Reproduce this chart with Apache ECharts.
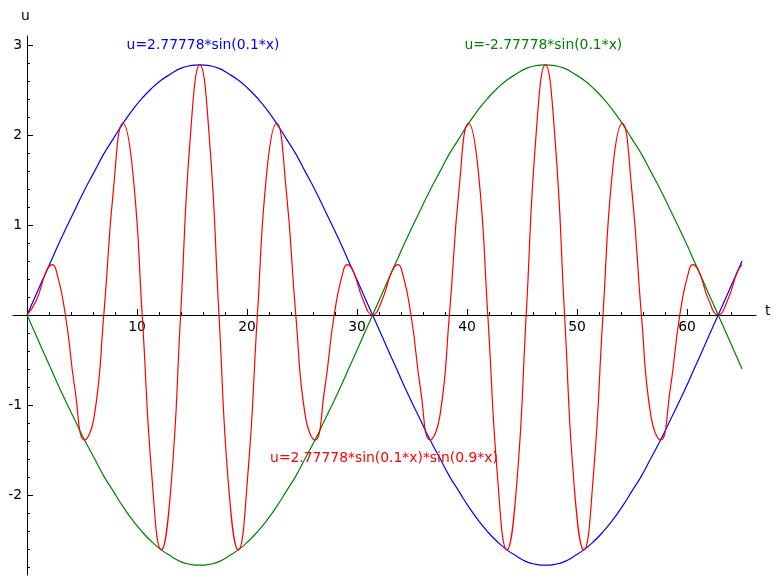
<!DOCTYPE html>
<html>
<head>
<meta charset="utf-8">
<script src="https://cdn.jsdelivr.net/npm/echarts@6/dist/echarts.min.js"></script>
<style>
html,body{margin:0;padding:0;background:#fff;}
#c{width:781px;height:585px;}
</style>
</head>
<body>
<div id="c"></div>
<script>
// sample positions along t
var ts = [0,0.873,1.745,2.3,2.618,3.491,4.363,5.236,6.109,6.981,7.854,8.727,9.599,10.472,11.345,12.217,13.09,13.963,14.835,15.708,16.581,17.453,18.326,19.199,20.071,20.944,21.817,22.689,23.562,24.435,25.307,26.18,27.053,27.925,28.798,29.116,29.671,30.543,31.416,32.289,33.161,33.716,34.034,34.907,35.779,36.652,37.525,38.397,39.27,40.143,41.015,41.888,42.761,43.633,44.506,45.379,46.251,47.124,47.997,48.869,49.742,50.615,51.487,52.36,53.233,54.105,54.978,55.851,56.723,57.596,58.469,59.341,60.214,60.532,61.087,61.959,62.832,63.705,64.577,65];
// u = 2.77778*sin(0.1*x)
var uBlue = [0,0.24,0.48,0.63,0.72,0.95,1.17,1.39,1.59,1.79,1.96,2.13,2.28,2.41,2.52,2.61,2.68,2.74,2.77,2.78,2.77,2.74,2.68,2.61,2.52,2.41,2.28,2.13,1.96,1.79,1.59,1.39,1.17,0.95,0.72,0.63,0.48,0.24,0,
-0.24,-0.48,-0.63,-0.72,-0.95,-1.17,-1.39,-1.59,-1.79,-1.96,-2.13,-2.28,-2.41,-2.52,-2.61,-2.68,-2.74,-2.77,-2.78,-2.77,-2.74,-2.68,-2.61,-2.52,-2.41,-2.28,-2.13,-1.96,-1.79,-1.59,-1.39,-1.17,-0.95,-0.72,-0.63,-0.48,-0.24,0,
0.24,0.48,0.60];
// u = -2.77778*sin(0.1*x)
var uGreen = [0,-0.24,-0.48,-0.63,-0.72,-0.95,-1.17,-1.39,-1.59,-1.79,-1.96,-2.13,-2.28,-2.41,-2.52,-2.61,-2.68,-2.74,-2.77,-2.78,-2.77,-2.74,-2.68,-2.61,-2.52,-2.41,-2.28,-2.13,-1.96,-1.79,-1.59,-1.39,-1.17,-0.95,-0.72,-0.63,-0.48,-0.24,0,
0.24,0.48,0.63,0.72,0.95,1.17,1.39,1.59,1.79,1.96,2.13,2.28,2.41,2.52,2.61,2.68,2.74,2.77,2.78,2.77,2.74,2.68,2.61,2.52,2.41,2.28,2.13,1.96,1.79,1.59,1.39,1.17,0.95,0.72,0.63,0.48,0.24,0,
-0.24,-0.48,-0.60];
// u = 2.77778*sin(0.1*x)*sin(0.9*x)
var uRed = [0,0.17,0.48,0.56,0.51,0,-0.83,-1.39,-1.13,0,1.39,2.13,1.61,0,-1.78,-2.61,-1.90,0,1.96,2.78,1.96,0,-1.90,-2.61,-1.78,0,1.61,2.13,1.39,0,-1.13,-1.39,-0.83,0,0.51,0.56,0.48,0.17,0,
0.17,0.48,0.56,0.51,0,-0.83,-1.39,-1.13,0,1.39,2.13,1.61,0,-1.78,-2.61,-1.90,0,1.96,2.78,1.96,0,-1.90,-2.61,-1.78,0,1.61,2.13,1.39,0,-1.13,-1.39,-0.83,0,0.51,0.56,0.48,0.17,0,
0.17,0.48,0.56];
var seriesNames = ['u=2.77778*sin(0.1*x)','u=-2.77778*sin(0.1*x)','u=2.77778*sin(0.1*x)*sin(0.9*x)'];
var labelAt = [[16,3.0],[46.94,3.0],[32.45,-1.59]];
var xTicksMajor = [0,60,10];
var xTicksMinor = [0,64,2];
var yTicksMajor = [-2,3,1];
var yTicksMinor = [-2.8,3.0,0.2];

var FONT = 'DejaVu Sans';
var XMIN = -14/11, XMAX = 66.27, YMIN = -2.889, YMAX = 3.1;
function pairs(ys){ return ts.map(function(t,i){ return [t, ys[i]]; }); }
function hiddenX(gi){ return {type:'value', gridIndex:gi, min:XMIN, max:XMAX, show:false}; }
function hiddenY(gi){ return {type:'value', gridIndex:gi, min:YMIN, max:YMAX, show:false}; }
var black = {color:'#000', width:1};
var noLine = {show:false, onZero:false};

var chart = echarts.init(document.getElementById('c'), null, {renderer:'canvas'});
var colors = ['#0000ff','#008000','#ff0000'];
var all = [uBlue, uGreen, uRed];
var series = all.map(function(ys, i){
  return {
    type:'line', xAxisIndex:0, yAxisIndex:0, data:pairs(ys), smooth:0.5,
    showSymbol:false, symbol:'none', animation:false,
    lineStyle:{color:colors[i], width:1.2}, z: 3 + (i===2?1:0),
    markPoint:{
      symbol:'circle', symbolSize:0, animation:false,
      data:[{coord:labelAt[i], value:seriesNames[i]}],
      label:{show:true, position:'inside', formatter:seriesNames[i], color:colors[i], fontFamily:FONT, fontSize:13.9}
    }
  };
});

chart.setOption({
  animation:false,
  backgroundColor:'#fff',
  grid:[
    {left:13, right:25, top:36, bottom:10},
    {left:27, right:50, top:36, bottom:270},
    {left:27, right:94, top:36, bottom:270},
    {left:27, right:25, top:45, bottom:18},
    {left:27, right:25, top:45, bottom:90}
  ],
  xAxis:[
    {type:'value', gridIndex:0, min:XMIN, max:XMAX, name:'t', nameLocation:'end', nameGap:9,
     nameTextStyle:{fontFamily:FONT, fontSize:13.9, color:'#000', verticalAlign:'bottom', lineHeight:8},
     axisLine:{onZero:true, lineStyle:black}, axisTick:{show:false}, axisLabel:{show:false}, splitLine:{show:false}},
    {type:'value', gridIndex:1, position:'bottom', min:xTicksMinor[0], max:xTicksMinor[1], interval:xTicksMinor[2],
     axisLine:noLine, axisTick:{show:true, inside:true, length:3, lineStyle:black},
     axisLabel:{show:false}, splitLine:{show:false}},
    {type:'value', gridIndex:2, position:'bottom', min:xTicksMajor[0], max:xTicksMajor[1], interval:xTicksMajor[2],
     axisLine:noLine, axisTick:{show:true, inside:true, length:6, lineStyle:black},
     axisLabel:{show:true, showMinLabel:false, margin:5, color:'#000', fontFamily:FONT, fontSize:13.9},
     splitLine:{show:false}},
    hiddenX(3), hiddenX(4)
  ],
  yAxis:[
    {type:'value', gridIndex:0, min:YMIN, max:YMAX, name:'u', nameLocation:'end', nameGap:13,
     nameTextStyle:{fontFamily:FONT, fontSize:13.9, color:'#000', padding:[0,3,0,0]},
     axisLine:{onZero:true, lineStyle:black}, axisTick:{show:false}, axisLabel:{show:false}, splitLine:{show:false}},
    hiddenY(1), hiddenY(2),
    {type:'value', gridIndex:3, position:'left', min:yTicksMinor[0], max:yTicksMinor[1], interval:yTicksMinor[2],
     axisLine:noLine, axisTick:{show:true, inside:true, length:3, lineStyle:black},
     axisLabel:{show:false}, splitLine:{show:false}},
    {type:'value', gridIndex:4, position:'left', min:yTicksMajor[0], max:yTicksMajor[1], interval:yTicksMajor[2],
     axisLine:noLine, axisTick:{show:true, inside:true, length:6, lineStyle:black},
     axisLabel:{show:true, margin:5, color:'#000', fontFamily:FONT, fontSize:13.9,
       formatter:function(v){ return v===0 ? '' : String(v); }},
     splitLine:{show:false}}
  ],
  series: series
});
</script>
</body>
</html>
